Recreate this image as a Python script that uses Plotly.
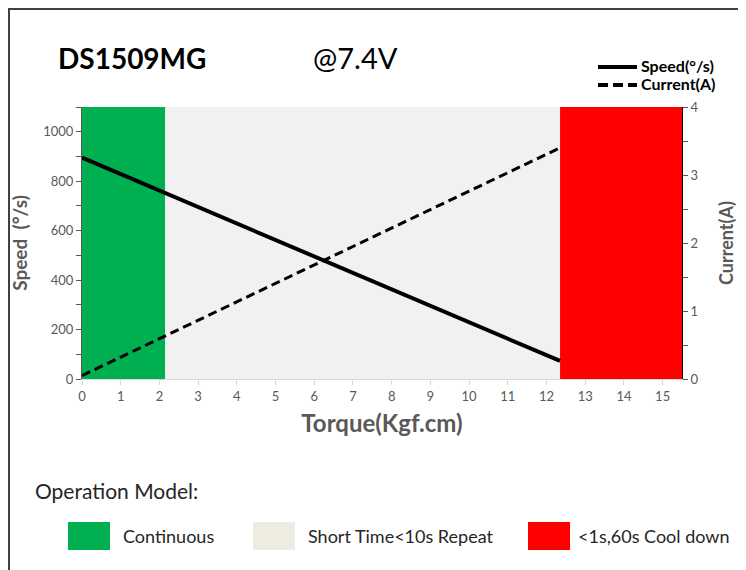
import plotly.graph_objects as go

# ---- data ----
torque = [0, 12.35]
speed = [895, 73]
current = [0.05, 3.4]

zone_names = ["Continuous", "Short Time<10s Repeat", "<1s,60s Cool down"]
zone_start = [0, 2.15, 12.35]
zone_end = [2.15, 12.35, 15.5]
zone_colors = ["#00b050", "#f1f1f1", "#ff0000"]
swatch_colors = ["#00b050", "#eeece1", "#ff0000"]

x_ticks = list(range(0, 16))
speed_ticks = [0, 200, 400, 600, 800, 1000]
current_ticks = [0, 1, 2, 3, 4]

FONT = "Lato"
GREY = "#595959"

# page is offset by the 8px body margin
OFF = 8
W, H = 746 - OFF, 570 - OFF
PL, PR, PT, PB = 82, 682, 107, 379          # plot area in page pixels
L, R, T, B = PL - OFF, W - (PR - OFF), PT - OFF, H - (PB - OFF)
PW, PH = PR - PL, PB - PT


def px(x):
    return (x - PL) / PW


def py(y):
    return (PB - y) / PH


fig = go.Figure()

fig.add_trace(go.Scatter(x=torque, y=speed, mode="lines", name="Speed(°/s)",
                         line=dict(color="black", width=4), yaxis="y", showlegend=False))
fig.add_trace(go.Scatter(x=torque, y=current, mode="lines", name="Current(A)",
                         line=dict(color="black", width=3, dash="9px,5px"), yaxis="y2",
                         showlegend=False))

shapes = []
for s, e, c in zip(zone_start, zone_end, zone_colors):
    shapes.append(dict(type="rect", xref="x", yref="y", x0=s, x1=e, y0=0, y1=1100,
                       fillcolor=c, line=dict(width=0), layer="below"))

# outer frame
shapes.append(dict(type="path", xref="paper", yref="paper",
                   path=f"M {px(9)} {py(600)} L {px(9)} {py(9)} L {px(741)} {py(9)} L {px(741)} {py(600)}",
                   line=dict(color="#404040", width=2)))

annotations = [
    dict(text="<b>DS1509MG</b>", x=px(56), y=py(58), xref="paper", yref="paper",
         xanchor="left", yanchor="middle", showarrow=False,
         font=dict(family=FONT, size=28, color="black")),
    dict(text="@7.4V", x=px(311), y=py(58), xref="paper", yref="paper",
         xanchor="left", yanchor="middle", showarrow=False,
         font=dict(family=FONT, size=29, color="black")),
    dict(text="Operation Model:", x=px(33), y=py(490), xref="paper", yref="paper",
         xanchor="left", yanchor="middle", showarrow=False,
         font=dict(family=FONT, size=21, color="#262626")),
]

# top-right line key
key_names = ["Speed(°/s)", "Current(A)"]
key_dash = ["solid", "10px,5px"]
key_y = [67, 85]
for name, dash, ky in zip(key_names, key_dash, key_y):
    shapes.append(dict(type="line", xref="paper", yref="paper",
                       x0=px(598), x1=px(637), y0=py(ky), y1=py(ky),
                       line=dict(color="black", width=4, dash=dash)))
    annotations.append(dict(text=f"<b>{name}</b>", x=px(639), y=py(ky - 2), xref="paper",
                            yref="paper", xanchor="left", yanchor="middle", showarrow=False,
                            font=dict(family=FONT, size=16, color="black")))

sw_x = [68, 253, 528]
lab_gap = [53, 53, 48]
for name, col, sx, g in zip(zone_names, swatch_colors, sw_x, lab_gap):
    shapes.append(dict(type="rect", xref="paper", yref="paper",
                       x0=px(sx), x1=px(sx + 42), y0=py(550), y1=py(522),
                       fillcolor=col, line=dict(width=0)))
    annotations.append(dict(text=name, x=px(sx + g), y=py(536), xref="paper", yref="paper",
                            xanchor="left", yanchor="middle", showarrow=False,
                            font=dict(family=FONT, size=18, color="#262626")))

fig.update_layout(
    width=W, height=H,
    margin=dict(l=L, r=R, t=T, b=B),
    paper_bgcolor="white", plot_bgcolor="white",
    font=dict(family=FONT, color=GREY),
    shapes=shapes, annotations=annotations,
    showlegend=False,
    xaxis=dict(range=[0, 15.5], tickvals=x_ticks, showgrid=False, zeroline=False,
               showline=True, linecolor="#d9d9d9", linewidth=1,
               ticks="outside", ticklen=5, tickcolor="#d9d9d9",
               tickfont=dict(family=FONT, size=13, color=GREY),
               title=dict(text="<b>Torque(Kgf.cm)</b>", standoff=12,
                          font=dict(family=FONT, size=24, color=GREY))),
    yaxis=dict(range=[0, 1100], tickvals=speed_ticks, showgrid=False, zeroline=False,
               showline=True, linecolor=GREY, linewidth=1,
               ticks="outside", ticklen=5, tickcolor=GREY,
               minor=dict(dtick=100, ticks="outside", ticklen=5, tickcolor=GREY, showgrid=False),
               tickfont=dict(family=FONT, size=13, color=GREY),
               title=dict(text="<b>Speed  (°/s)</b>", standoff=10,
                          font=dict(family=FONT, size=19, color=GREY))),
    yaxis2=dict(range=[0, 4], overlaying="y", side="right",
                tickvals=current_ticks, showgrid=False, zeroline=False,
                showline=True, linecolor="black", linewidth=1,
                ticks="outside", ticklen=5, tickcolor=GREY,
                minor=dict(dtick=0.5, ticks="outside", ticklen=5, tickcolor=GREY, showgrid=False),
                tickfont=dict(family=FONT, size=13, color=GREY),
                title=dict(text="<b>Current(A)</b>", standoff=22,
                           font=dict(family=FONT, size=18, color=GREY))),
)

fig.write_html("out.html")
